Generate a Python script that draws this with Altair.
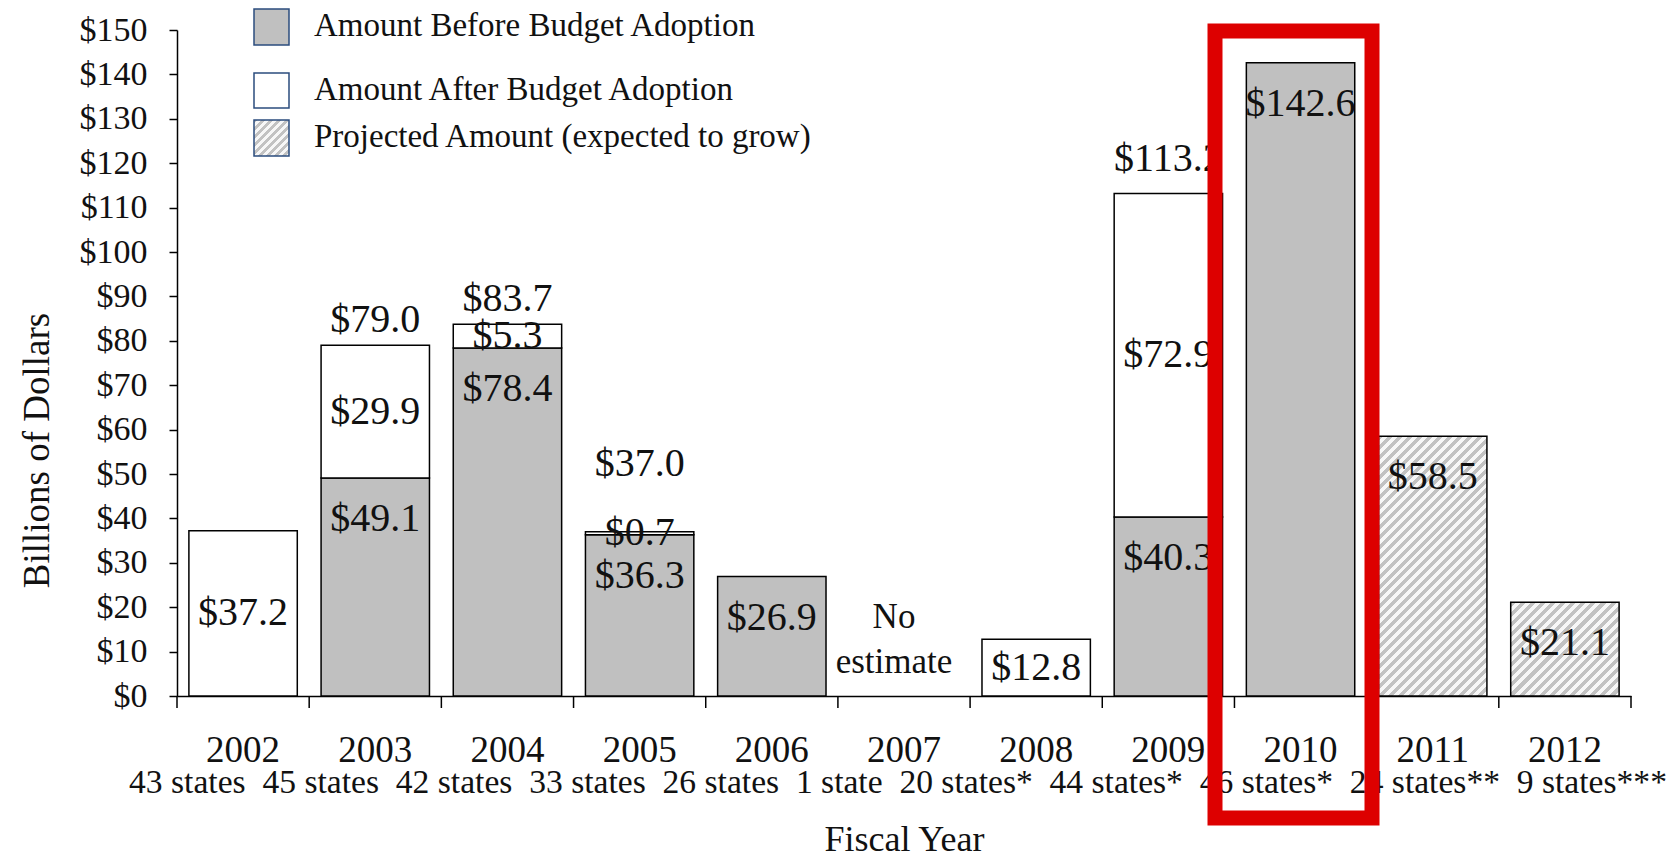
import altair as alt
import pandas as pd

# ---------------- data ----------------
years = ['2002', '2003', '2004', '2005', '2006', '2007', '2008', '2009', '2010', '2011', '2012']
states = ['43 states', '45 states', '42 states', '33 states', '26 states', '1 state',
          '20 states*', '44 states*', '46 states*', '24 states**', '9 states***']
before_adoption = [None, 49.1, 78.4, 36.3, 26.9, None, None, 40.3, 142.6, None, None]
after_adoption = [37.2, 29.9, 5.3, 0.7, None, None, 12.8, 72.9, None, None, None]
projected = [None, None, None, None, None, None, None, None, None, 58.5, 21.1]
total_years = ['2003', '2004', '2005', '2009']
totals = [79.0, 83.7, 37.0, 113.2]
legend_labels = ['Amount Before Budget Adoption', 'Amount After Budget Adoption',
                 'Projected Amount (expected to grow)']
y_ticks = list(range(0, 151, 10))
no_estimate_year = '2007'

# ---------------- layout / style ----------------
W, H = 1454, 666
FONT = 'Liberation Serif'
INK = '#111111'
GRAY = '#c0c0c0'
STRIPE_DARK = '#c2c2c2'
STRIPE_LIGHT = '#f7f7f7'
BAR_W = W / len(years) * 0.82

rows = []
for i, yr in enumerate(years):
    base = 0.0
    for kind, arr in (('before', before_adoption), ('after', after_adoption), ('projected', projected)):
        v = arr[i]
        if v:
            rows.append(dict(year=yr, kind=kind, start=base, end=base + v,
                             mid=base + v / 2, label=f'${v:.1f}'))
            base += v
seg = pd.DataFrame(rows)
tot = pd.DataFrame({'year': total_years, 'total': totals,
                    'label': [f'${v:.1f}' for v in totals]})


def hatch(wpx, hpx, period=7.0):
    """diagonal stripes (///) as a hard-stop linear gradient"""
    a, b = 1.0 / hpx, 1.0 / wpx
    k = (a + b) / (a * a + b * b)
    n = max(3, int(round((wpx + hpx) / 2 ** 0.5 / period)))
    stops = []
    for j in range(n):
        o0, o1, o2 = j / n, (j + 0.5) / n, (j + 1) / n
        stops += [alt.GradientStop(offset=o0, color=STRIPE_DARK),
                  alt.GradientStop(offset=o1, color=STRIPE_DARK),
                  alt.GradientStop(offset=o1, color=STRIPE_LIGHT),
                  alt.GradientStop(offset=o2, color=STRIPE_LIGHT)]
    return alt.LinearGradient(gradient='linear', stops=stops,
                              x1=0, y1=0, x2=k * a, y2=k * b)


xband = alt.Scale(domain=years, paddingInner=0.18, paddingOuter=0.09)
yscale = alt.Scale(domain=[0, 150], nice=False, zero=True)
YT = 'Billions of Dollars'


def xenc(axis=None):
    return alt.X('year:N', scale=xband, axis=axis, title='Fiscal Year')


x_axis = alt.Axis(labelAngle=0, labelFontSize=37, labelPadding=54, labelBaseline='middle',
                  ticks=False, tickSize=0, domain=True, domainColor='black', domainWidth=1.5,
                  labelColor=INK, title='Fiscal Year', titleFontSize=36, titleFontWeight='normal',
                  titleColor=INK, titleY=143, titleBaseline='middle', labelFont=FONT, titleFont=FONT)
y_axis = alt.Axis(values=y_ticks, labelExpr="'$' + datum.value", grid=False, tickSize=8,
                  tickWidth=1.5, tickColor='black', domainColor='black', domainWidth=1.5,
                  labelPadding=22, labelFontSize=34, labelColor=INK, labelFont=FONT,
                  title=YT, titleFontSize=37, titleFontWeight='normal', titleColor=INK,
                  titleFont=FONT, titleAngle=-90, titleX=-140, titleY=420,
                  titleAlign='center', titleBaseline='middle')

layers = []

# solid bars (before = gray, after = white)
layers.append(
    alt.Chart(seg).transform_filter(alt.datum.kind != 'projected')
    .mark_bar(stroke='black', strokeWidth=1.5)
    .encode(
        x=xenc(x_axis),
        y=alt.Y('start:Q', scale=yscale, axis=y_axis, title=YT),
        y2=alt.Y2('end:Q'),
        fill=alt.Fill('kind:N', scale=alt.Scale(domain=['before', 'after'], range=[GRAY, '#ffffff']),
                      legend=None),
    )
)

# projected (hatched) bars, one per bar so the stripes keep their angle
for yr, v in zip(years, projected):
    if v:
        layers.append(
            alt.Chart(seg).transform_filter((alt.datum.kind == 'projected') & (alt.datum.year == yr))
            .mark_bar(stroke='black', strokeWidth=1.5, fill=hatch(BAR_W, v * H / 150))
            .encode(x=xenc(), y=alt.Y('start:Q', scale=yscale, title=YT), y2=alt.Y2('end:Q'))
        )

# value labels: white segments at middle
layers.append(
    alt.Chart(seg).transform_filter(alt.datum.kind == 'after')
    .mark_text(fontSize=40, font=FONT, color=INK, baseline='middle', align='center')
    .encode(x=xenc(), y=alt.Y('mid:Q', scale=yscale, title=YT), text='label:N')
)
# gray / hatched segments: just inside the top
layers.append(
    alt.Chart(seg).transform_filter(alt.datum.kind != 'after')
    .mark_text(fontSize=40, font=FONT, color=INK, baseline='middle', align='center', dy=41)
    .encode(x=xenc(), y=alt.Y('end:Q', scale=yscale, title=YT), text='label:N')
)
# totals above the stacks
for sel, lift in ((['2003', '2004'], -25), (['2009'], -34), (['2005'], -68)):
    layers.append(
        alt.Chart(tot).transform_filter(alt.FieldOneOfPredicate(field='year', oneOf=sel))
        .mark_text(fontSize=40, font=FONT, color=INK, baseline='middle', align='center', dy=lift)
        .encode(x=xenc(), y=alt.Y('total:Q', scale=yscale, title=YT), text='label:N')
    )

# "No estimate"
layers.append(
    alt.Chart(pd.DataFrame({'year': [no_estimate_year]}))
    .mark_text(text=['No', 'estimate'], fontSize=35, font=FONT, color=INK, baseline='middle',
               align='center', lineHeight=45, dx=-10)
    .encode(x=xenc(), y=alt.value(587))
)

# x-axis ticks at band boundaries
layers.append(
    alt.Chart(pd.DataFrame({'t': list(range(len(years) + 1))}))
    .mark_rule(color='black', strokeWidth=1.5)
    .encode(x=alt.X('t:Q', scale=alt.Scale(domain=[0, len(years)], nice=False, zero=False), axis=None),
            y=alt.value(H), y2=alt.value(H + 12))
)

# second line of the category labels
layers.append(
    alt.Chart(pd.DataFrame({'s': ['\u00a0\u00a0'.join(states)]}))
    .mark_text(fontSize=33.6, font=FONT, color=INK, baseline='middle', align='center')
    .encode(text='s:N', x=alt.value(721), y=alt.value(753))
)

# legend
sw_y = [(-21, 15), (43, 78), (90, 126)]
fills = [GRAY, '#ffffff', hatch(35, 36, period=5.5)]
for lab, (y0, y1), f in zip(legend_labels, sw_y, fills):
    one = pd.DataFrame({'label': [lab]})
    layers.append(
        alt.Chart(one).mark_rect(fill=f, stroke='#2b4c7e', strokeWidth=1.5)
        .encode(x=alt.value(77), x2=alt.value(112), y=alt.value(y0), y2=alt.value(y1))
    )
    layers.append(
        alt.Chart(one).mark_text(fontSize=33, font=FONT, color=INK, align='left', baseline='middle')
        .encode(text='label:N', x=alt.value(137), y=alt.value((y0 + y1) / 2 - 1))
    )

# red highlight box around 2010
layers.append(
    alt.Chart(pd.DataFrame({'year': ['2010']}))
    .mark_rect(fill=None, fillOpacity=0, stroke='#dd0000', strokeWidth=15)
    .encode(x=alt.value(1038), x2=alt.value(1195), y=alt.value(1), y2=alt.value(788))
)

chart = (
    alt.layer(*layers)
    .resolve_scale(x='independent')
    .properties(width=W, height=H,
                padding={'left': 169, 'top': 22, 'right': 40, 'bottom': 160},
                autosize=alt.AutoSizeParams(type='none'), background='white')
    .configure_view(stroke=None)
    .configure_text(font=FONT)
)

chart.save('out.html', embed_options={'renderer': 'svg', 'actions': False})
